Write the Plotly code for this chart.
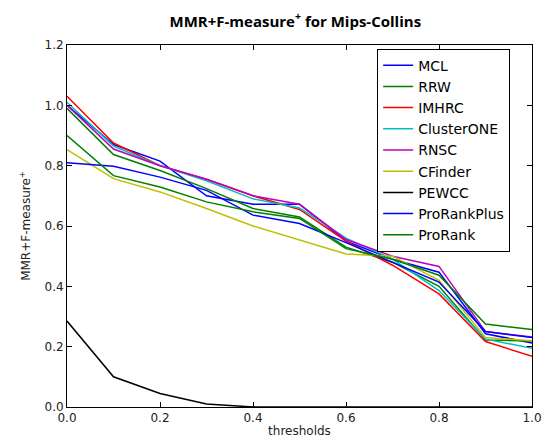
import plotly.graph_objects as go

thresholds = [0.0, 0.1, 0.2, 0.3, 0.4, 0.5, 0.6, 0.7, 0.8, 0.9, 1.0]

mcl = [1.00, 0.870, 0.815, 0.700, 0.672, 0.672, 0.550, 0.490, 0.447, 0.243, 0.212]
rrw = [0.99, 0.837, 0.784, 0.724, 0.658, 0.630, 0.530, 0.480, 0.400, 0.222, 0.219]
imhrc = [1.03, 0.875, 0.800, 0.755, 0.700, 0.655, 0.550, 0.470, 0.375, 0.217, 0.168]
clusterone = [1.01, 0.865, 0.800, 0.750, 0.690, 0.660, 0.560, 0.490, 0.386, 0.225, 0.195]
rnsc = [1.00, 0.855, 0.800, 0.755, 0.700, 0.672, 0.555, 0.500, 0.466, 0.250, 0.232]
cfinder = [0.853, 0.757, 0.713, 0.658, 0.600, 0.554, 0.507, 0.500, 0.420, 0.230, 0.220]
pewcc = [0.285, 0.100, 0.045, 0.010, 0.0, 0.0, 0.0, 0.0, 0.0, 0.0, 0.0]
prorankplus = [0.81, 0.798, 0.762, 0.718, 0.636, 0.608, 0.545, 0.480, 0.414, 0.250, 0.230]
prorank = [0.90, 0.767, 0.729, 0.680, 0.647, 0.625, 0.525, 0.490, 0.437, 0.275, 0.257]

names = ["MCL", "RRW", "IMHRC", "ClusterONE", "RNSC", "CFinder", "PEWCC", "ProRankPlus", "ProRank"]
series = [mcl, rrw, imhrc, clusterone, rnsc, cfinder, pewcc, prorankplus, prorank]
colors = ["#0000ff", "#008000", "#ff0000", "#00bfbf", "#bf00bf", "#bfbf00", "#000000", "#0000ff", "#008000"]

fig = go.Figure()
for n, s, c in zip(names, series, colors):
    fig.add_trace(go.Scatter(x=thresholds, y=s, mode="lines", name=n,
                             line=dict(color=c, width=1.5)))

axis_common = dict(showline=True, linecolor="black", linewidth=1, mirror="ticks",
                   ticks="inside", ticklen=5, tickcolor="black", showgrid=False,
                   zeroline=False, tickformat=".1f", dtick=0.2,
                   tickfont=dict(family="DejaVu Sans", size=12, color="#222"))

fig.update_xaxes(range=[0, 1.0], title=dict(text="thresholds", standoff=2,
                 font=dict(family="DejaVu Sans", size=12, color="#222")), **axis_common)
fig.update_yaxes(range=[0, 1.2], title=dict(text="MMR+F-measure<sup>+</sup>", standoff=11,
                 font=dict(family="DejaVu Sans", size=12, color="#222")), **axis_common)

fig.update_layout(
    width=552, height=446,
    margin=dict(l=67, r=10, t=45, b=36),
    paper_bgcolor="white", plot_bgcolor="white",
    title=dict(text="<b>MMR+F-measure<sup>+</sup> for Mips-Collins</b>",
               x=0.535, xanchor="center", y=0.952, yanchor="middle",
               font=dict(family="Open Sans", size=15, color="black")),
    legend=dict(x=0.667, y=0.99, xanchor="left", yanchor="top",
                bgcolor="white", bordercolor="black", borderwidth=1,
                font=dict(family="DejaVu Sans", size=14, color="black"),
                tracegroupgap=0),
    showlegend=True,
)

fig.write_html("out.html", config={"displayModeBar": False},
               post_script="document.body.style.margin='0';document.body.style.overflow='hidden';")
